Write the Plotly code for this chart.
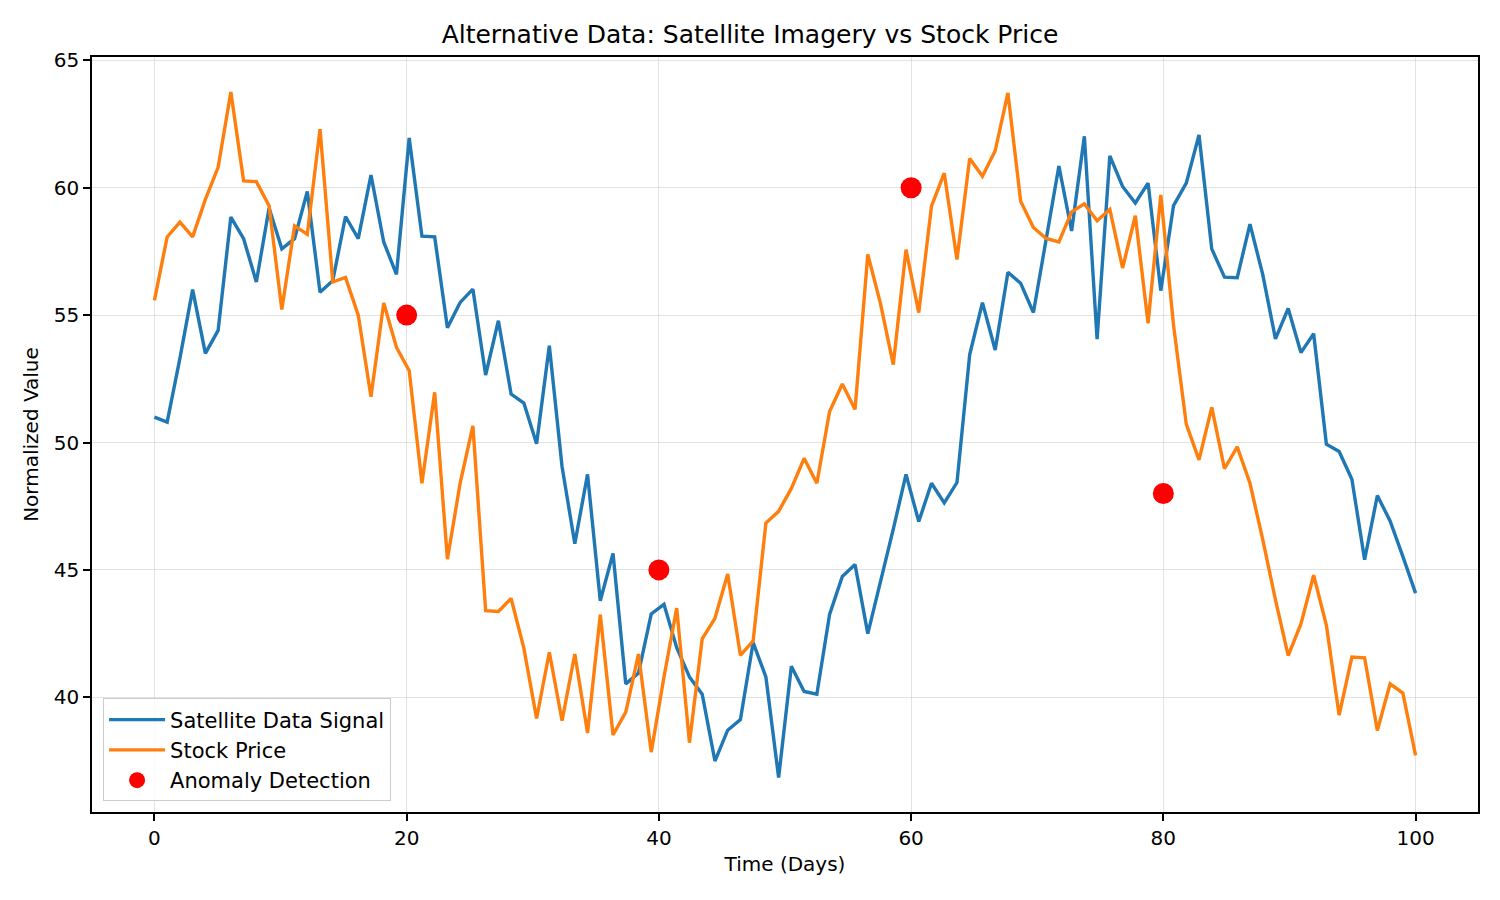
import numpy as np
import plotly.graph_objects as go

days = np.linspace(0, 100, 100)

satellite = [51.0, 50.8, 53.3, 56.0, 53.5, 54.4, 58.85, 58.0, 56.3, 59.2,
             57.6, 58.0, 59.85, 55.9, 56.35, 58.87, 58.0, 60.5, 57.87, 56.6,
             61.95, 58.1, 58.07, 54.5, 55.5, 56.02, 52.65, 54.78, 51.9, 51.55,
             49.95, 53.8, 49.05, 46.03, 48.75, 43.79, 45.65, 40.53, 40.95, 43.27,
             43.65, 41.95, 40.8, 40.12, 37.5, 38.71, 39.13, 42.15, 40.8, 36.85,
             41.22, 40.23, 40.12, 43.25, 44.74, 45.21, 42.5, 44.5, 46.6, 48.75,
             46.9, 48.4, 47.63, 48.43, 53.45, 55.49, 53.63, 56.68, 56.25, 55.1,
             57.9, 60.85, 58.3, 62.02, 54.06, 61.25, 60.05, 59.4, 60.18, 55.96,
             59.3, 60.18, 62.07, 57.6, 56.49, 56.47, 58.57, 56.6, 54.07, 55.26,
             53.53, 54.27, 49.93, 49.65, 48.56, 45.4, 47.92, 46.92, 45.53, 44.09]

stock = [55.58, 58.07, 58.65, 58.07, 59.54, 60.8, 63.76, 60.27, 60.24, 59.29,
         55.22, 58.5, 58.17, 62.3, 56.3, 56.48, 55.0, 51.8, 55.48, 53.74,
         52.82, 48.4, 51.97, 45.42, 48.41, 50.65, 43.4, 43.37, 43.88, 41.93,
         39.17, 41.77, 39.08, 41.7, 38.6, 43.24, 38.52, 39.42, 41.7, 37.85,
         40.8, 43.5, 38.22, 42.3, 43.1, 44.84, 41.65, 42.22, 46.84, 47.3,
         48.2, 49.38, 48.4, 51.22, 52.3, 51.3, 57.38, 55.44, 53.06, 57.57,
         55.1, 59.28, 60.57, 57.18, 61.15, 60.45, 61.45, 63.72, 59.47, 58.44,
         58.01, 57.87, 59.05, 59.37, 58.7, 59.15, 56.85, 58.9, 54.68, 59.72,
         54.6, 50.72, 49.32, 51.38, 48.97, 49.83, 48.4, 46.2, 43.83, 41.64,
         42.88, 44.79, 42.83, 39.3, 41.58, 41.55, 38.7, 40.53, 40.17, 37.72]

anomaly_x = [20, 40, 60, 80]
anomaly_y = [55, 45, 60, 48]

FONT = "DejaVu Sans"

fig = go.Figure()
fig.add_trace(go.Scatter(x=days, y=satellite, mode="lines", name="Satellite Data Signal",
                         line=dict(color="#1f77b4", width=3.4)))
fig.add_trace(go.Scatter(x=days, y=stock, mode="lines", name="Stock Price",
                         line=dict(color="#ff7f0e", width=3.4)))
fig.add_trace(go.Scatter(x=anomaly_x, y=anomaly_y, mode="markers", name="Anomaly Detection",
                         marker=dict(color="#ff0000", size=21, line=dict(width=0))))

axis_common = dict(
    showgrid=True, gridcolor="rgba(176,176,176,0.35)", gridwidth=1,
    showline=True, linecolor="black", linewidth=1.5, mirror=True,
    ticks="outside", ticklen=7, tickwidth=1.5, tickcolor="black",
    zeroline=False, tickfont=dict(family=FONT, size=20, color="black"),
)

fig.update_layout(
    width=1500, height=900,
    paper_bgcolor="white", plot_bgcolor="white",
    margin=dict(l=92, r=22, t=57, b=88),
    title=dict(text="Alternative Data: Satellite Imagery vs Stock Price",
               x=0.5, xanchor="center", y=1 - 34 / 900, yanchor="middle",
               font=dict(family=FONT, size=25, color="black")),
    xaxis=dict(range=[-4.95, 104.95], tickvals=[0, 20, 40, 60, 80, 100],
               title=dict(text="Time (Days)", font=dict(family=FONT, size=20, color="black"), standoff=8),
               **axis_common),
    yaxis=dict(range=[35.5, 65.13], tickvals=[40, 45, 50, 55, 60, 65],
               title=dict(text="Normalized Value", font=dict(family=FONT, size=20, color="black"), standoff=10),
               **axis_common),
    legend=dict(x=0.008, y=0.014, xanchor="left", yanchor="bottom",
                bgcolor="rgba(255,255,255,0.8)", bordercolor="#cccccc", borderwidth=1,
                font=dict(family=FONT, size=21, color="black"), itemwidth=56),
    showlegend=True,
)

fig.write_html("out.html")
